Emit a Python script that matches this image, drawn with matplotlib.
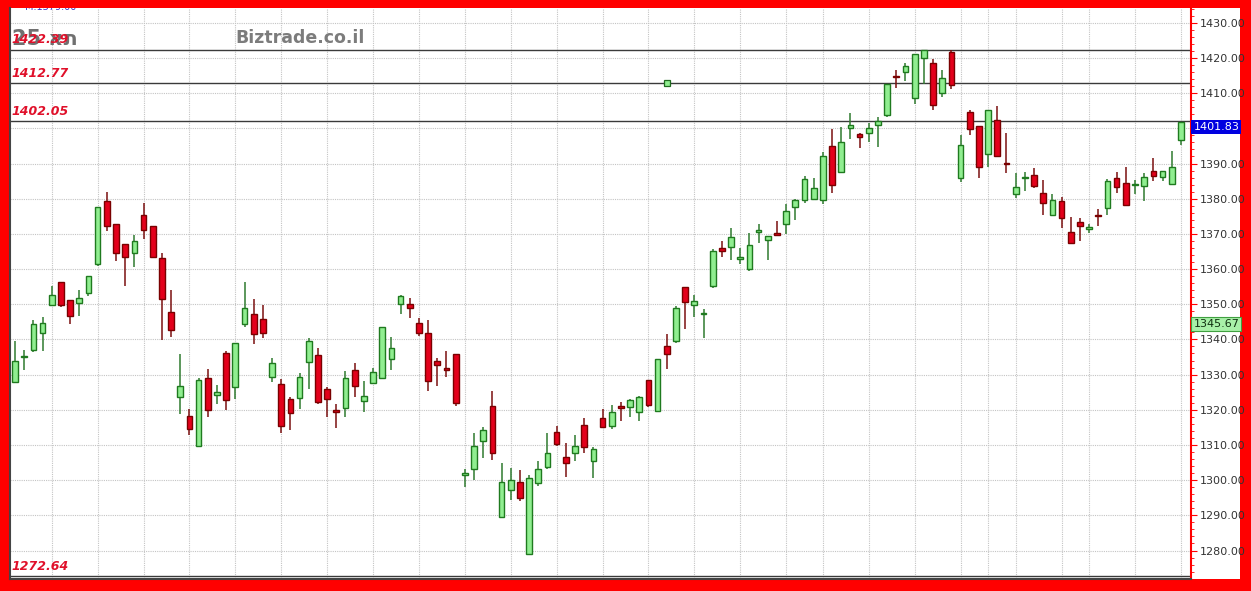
import numpy as np
import matplotlib
matplotlib.use('Agg')
import matplotlib.pyplot as plt
from matplotlib.patches import Rectangle
from matplotlib.ticker import MultipleLocator, FuncFormatter
import matplotlib.transforms as mtransforms

# daily candles, oldest first
opens = [1328.0, 1335.0, 1337.0, 1341.9, 1349.7, 1356.4, 1351.2, 1350.3, 1353.3, 1361.4,
         1379.4, 1372.8, 1367.2, 1364.5, 1375.5, 1372.2, 1363.1, 1347.9, 1323.5, 1318.3,
         1309.7, 1328.9, 1324.1, 1336.1, 1326.6, 1344.3, 1347.2, 1345.8, 1329.3, 1327.3,
         1323.0, 1323.3, 1333.6, 1335.6, 1325.8, 1319.9, 1320.6, 1331.3, 1322.5, 1327.7,
         1329.0, 1334.5, 1350.0, 1350.0, 1344.8, 1341.7, 1333.9, 1331.8, 1335.8, 1301.5,
         1303.3, 1311.0, 1321.1, 1289.6, 1297.1, 1299.5, 1278.9, 1299.1, 1303.8, 1313.8,
         1306.6, 1307.8, 1315.7, 1305.5, 1317.8, 1315.4, 1321.1, 1320.8, 1319.5, 1328.5,
         1319.7, 1338.2, 1339.6, 1354.9, 1349.8, 1347.2, 1355.2, 1365.9, 1366.3, 1362.8,
         1360.0, 1370.6, 1368.2, 1370.0, 1372.8, 1377.7, 1379.6, 1379.9, 1379.6, 1395.0,
         1387.7, 1400.2, 1398.4, 1398.8, 1401.0, 1403.8, 1414.8, 1415.9, 1408.6, 1420.0,
         1418.7, 1410.0, 1421.6, 1385.8, 1404.5, 1400.7, 1392.7, 1402.3, 1390.1, 1381.3,
         1385.9, 1386.8, 1381.7, 1375.3, 1379.4, 1370.4, 1373.4, 1371.5, 1375.2, 1377.3,
         1385.8, 1384.6, 1383.8, 1383.5, 1387.9, 1386.3, 1384.3, 1396.6]
highs = [1339.6, 1337.0, 1345.6, 1346.4, 1355.2, 1356.4, 1351.2, 1354.0, 1358.1, 1377.7,
         1382.0, 1372.8, 1367.2, 1369.7, 1378.7, 1372.2, 1364.5, 1354.0, 1335.8, 1320.2,
         1329.0, 1331.5, 1327.1, 1336.7, 1339.1, 1356.4, 1351.4, 1349.7, 1334.8, 1328.7,
         1323.5, 1330.4, 1340.3, 1337.5, 1326.6, 1321.6, 1330.9, 1333.2, 1328.2, 1332.0,
         1343.4, 1340.8, 1352.7, 1351.7, 1346.0, 1345.6, 1334.7, 1336.7, 1335.8, 1303.1,
         1313.3, 1315.2, 1325.4, 1305.0, 1303.4, 1302.9, 1301.4, 1305.5, 1313.3, 1315.4,
         1310.5, 1312.9, 1317.8, 1309.4, 1320.2, 1321.3, 1322.1, 1323.0, 1324.0, 1328.5,
         1334.4, 1341.5, 1349.5, 1354.9, 1352.6, 1348.6, 1365.7, 1368.0, 1371.6, 1366.1,
         1370.2, 1372.8, 1369.4, 1373.7, 1378.6, 1379.9, 1386.5, 1386.0, 1393.4, 1399.8,
         1400.5, 1404.3, 1398.8, 1401.4, 1403.1, 1412.6, 1416.6, 1418.7, 1421.1, 1422.2,
         1419.7, 1416.6, 1422.39, 1398.2, 1405.2, 1400.7, 1405.2, 1406.4, 1398.8, 1387.2,
         1387.6, 1388.7, 1385.3, 1381.3, 1380.5, 1374.8, 1374.6, 1372.9, 1377.0, 1385.6,
         1387.7, 1388.9, 1385.3, 1387.3, 1391.5, 1387.9, 1393.6, 1401.83]
lows = [1328.0, 1331.3, 1336.5, 1336.7, 1349.7, 1349.2, 1344.5, 1346.7, 1352.4, 1361.0,
        1370.7, 1362.3, 1355.2, 1360.7, 1368.5, 1363.0, 1339.9, 1340.8, 1318.7, 1312.9,
        1309.7, 1318.0, 1321.6, 1319.9, 1323.2, 1343.4, 1338.6, 1340.5, 1327.9, 1313.3,
        1314.2, 1320.3, 1326.0, 1321.6, 1318.0, 1314.8, 1318.0, 1323.5, 1319.5, 1327.7,
        1328.8, 1331.3, 1347.3, 1346.2, 1341.0, 1325.4, 1326.8, 1329.4, 1321.0, 1298.1,
        1300.0, 1306.4, 1305.7, 1289.6, 1294.3, 1294.1, 1278.6, 1298.2, 1303.1, 1309.7,
        1301.0, 1305.5, 1307.7, 1300.7, 1315.2, 1314.5, 1316.8, 1318.0, 1316.7, 1320.8,
        1319.7, 1331.5, 1339.1, 1342.9, 1346.5, 1340.5, 1354.7, 1363.3, 1362.5, 1361.4,
        1359.5, 1367.5, 1362.5, 1369.4, 1370.1, 1373.9, 1378.9, 1379.6, 1378.4, 1381.7,
        1387.2, 1396.9, 1394.3, 1396.2, 1394.7, 1403.3, 1411.6, 1413.5, 1406.9, 1412.6,
        1405.3, 1409.0, 1411.1, 1384.8, 1398.2, 1386.0, 1388.9, 1392.0, 1387.4, 1380.2,
        1382.2, 1383.0, 1375.4, 1375.3, 1371.6, 1367.5, 1368.0, 1370.2, 1372.1, 1375.3,
        1381.7, 1378.2, 1381.3, 1379.4, 1385.1, 1384.9, 1384.3, 1395.3]
closes = [1333.9, 1335.2, 1344.3, 1344.8, 1352.7, 1349.8, 1346.7, 1351.7, 1358.1, 1377.7,
          1372.1, 1364.5, 1363.5, 1368.0, 1371.1, 1363.3, 1351.4, 1342.7, 1326.8, 1314.6,
          1328.5, 1319.9, 1325.1, 1322.7, 1339.1, 1348.8, 1341.5, 1341.8, 1333.2, 1315.4,
          1319.2, 1329.2, 1339.6, 1322.3, 1323.2, 1319.4, 1329.0, 1326.8, 1323.9, 1330.6,
          1343.4, 1337.7, 1352.2, 1348.8, 1341.9, 1328.2, 1332.6, 1331.2, 1321.9, 1302.1,
          1309.7, 1314.3, 1307.7, 1299.5, 1300.1, 1295.0, 1300.7, 1303.1, 1307.8, 1310.2,
          1305.0, 1309.7, 1309.5, 1308.8, 1315.2, 1319.5, 1320.6, 1322.7, 1323.5, 1321.3,
          1334.4, 1335.8, 1348.9, 1350.7, 1350.8, 1347.4, 1365.0, 1365.2, 1369.2, 1363.5,
          1366.9, 1371.1, 1369.4, 1369.8, 1376.5, 1379.6, 1385.6, 1383.0, 1392.2, 1383.9,
          1396.0, 1401.0, 1397.4, 1400.1, 1402.1, 1412.6, 1414.6, 1417.8, 1421.1, 1422.2,
          1406.6, 1414.3, 1412.4, 1395.3, 1399.9, 1388.9, 1405.2, 1392.2, 1389.9, 1383.2,
          1386.1, 1383.5, 1378.9, 1379.7, 1374.5, 1367.5, 1372.1, 1371.7, 1375.0, 1384.9,
          1383.4, 1378.2, 1384.0, 1386.2, 1386.5, 1387.9, 1389.1, 1401.83]

levels = [1422.39, 1412.77, 1402.05, 1272.64]
level_labels = ['1422.39', '1412.77', '1402.05', '1272.64']
week_starts = [4, 9, 14, 19, 24, 29, 34, 39, 44, 49, 54, 59, 64, 69, 74, 79, 84,
               88, 93, 98, 103, 106, 109, 114, 117, 122, 127]
last_price = 1401.83
side_price = 1345.67
marker_idx = 71
marker_price = 1412.77

W, H = 1251, 591
fig = plt.figure(figsize=(W / 100, H / 100), dpi=100, facecolor='#ff0000')

# right price panel (white strip behind the tick labels)
fig.patches.append(Rectangle((1191 / W, 12 / H), 49 / W, 571 / H,
                             transform=fig.transFigure, facecolor='white',
                             edgecolor='none', zorder=-5))

ax = fig.add_axes([10 / W, 12 / H, 1181 / W, 571 / H])
ax.set_facecolor('white')

x = np.arange(len(opens))
o = np.array(opens)
c = np.array(closes)
h = np.array(highs)
l = np.array(lows)
up = c >= o

wick_col = np.where(up, '#2f7a2f', '#7a1010')
ax.vlines(x, l, h, colors=wick_col, linewidth=1.1, zorder=3)

body_lo = np.minimum(o, c)
body_h = np.maximum(np.abs(c - o), 0.35)
ax.bar(x[up], body_h[up], bottom=body_lo[up], width=0.62,
       color='#90ee90', edgecolor='#1f7a1f', linewidth=1.0, zorder=4)
ax.bar(x[~up], body_h[~up], bottom=body_lo[~up], width=0.62,
       color='#e3001b', edgecolor='#7a0000', linewidth=1.0, zorder=4)

ax.set_xlim(-0.545, 128.1)
ax.set_ylim(1271.9, 1434.2)

# grid
for ws in week_starts:
    ax.axvline(ws, color='#c4c4c4', linewidth=0.8, linestyle=(0, (1, 1)), zorder=1)
for yv in range(1280, 1431, 10):
    ax.axhline(yv, color='#c4c4c4', linewidth=0.8, linestyle=(0, (1, 1)), zorder=1)

blend = mtransforms.blended_transform_factory(ax.transAxes, ax.transData)

# support / resistance lines
for lv, lab in zip(levels, level_labels):
    ax.axhline(lv, color='#3a3a3a', linewidth=1.0, zorder=2)
    ax.text(0.0015, lv + 1.0, lab, transform=blend,
            color='#e0102a', fontsize=9, fontweight='bold', fontstyle='italic',
            ha='left', va='bottom', zorder=6)

ax.plot([marker_idx], [marker_price], marker='s', markersize=5,
        markerfacecolor='#90ee90', markeredgecolor='#1f6a1f', markeredgewidth=0.9, zorder=5)

# header texts
ax.text(0.002, 0.946, '25 את', transform=ax.transAxes, color='#707070',
        fontsize=15, fontweight='bold', ha='left', va='center', zorder=5)
ax.text(0.191, 0.947, 'Biztrade.co.il', transform=ax.transAxes, color='#7c7c7c',
        fontsize=12.5, fontweight='bold', ha='left', va='center', zorder=5)
ax.text(0.013, 1.001, 'M.1379.00', transform=ax.transAxes, color='#3a3ac8',
        fontsize=7, ha='left', va='center', zorder=5, clip_on=True)


def price_fmt(v, pos):
    # the 1400 label sits under the last-price box
    if abs(v - 1400) < 0.01:
        return ''
    return '%.2f' % v


# axes styling
ax.yaxis.tick_right()
ax.yaxis.set_major_locator(MultipleLocator(10))
ax.yaxis.set_minor_locator(MultipleLocator(2))
ax.yaxis.set_major_formatter(FuncFormatter(price_fmt))
ax.tick_params(axis='y', which='major', colors='#ff0000', length=4, width=0.8,
               labelcolor='#333333', labelsize=8, pad=2)
ax.tick_params(axis='y', which='minor', colors='#ff0000', length=2, width=0.6)
ax.tick_params(axis='x', bottom=False, labelbottom=False)

ax.spines['top'].set_visible(False)
ax.spines['right'].set_color('#ff0000')
ax.spines['right'].set_linewidth(1.5)
ax.spines['left'].set_color('#444444')
ax.spines['left'].set_linewidth(1.5)
ax.spines['bottom'].set_color('#444444')
ax.spines['bottom'].set_linewidth(1.5)

ax.text(1.002, last_price, '%.2f' % last_price, transform=blend, color='white',
        fontsize=8, ha='left', va='top', zorder=7, clip_on=False,
        bbox=dict(boxstyle='square,pad=0.18', facecolor='#0000e0', edgecolor='none'))
ax.text(1.002, side_price, '%.2f' % side_price, transform=blend, color='#103010',
        fontsize=8, ha='left', va='top', zorder=7, clip_on=False,
        bbox=dict(boxstyle='square,pad=0.18', facecolor='#a8f0a8', edgecolor='#40a040', linewidth=0.8))

fig.savefig('out.png', dpi=100, facecolor=fig.get_facecolor())
